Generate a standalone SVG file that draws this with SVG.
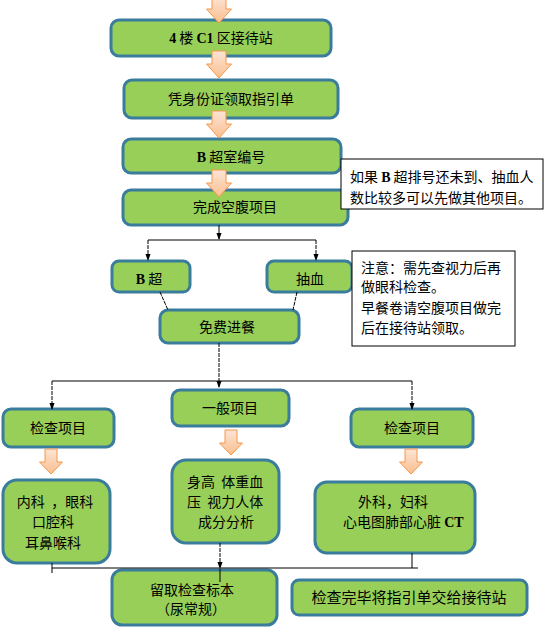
<svg xmlns="http://www.w3.org/2000/svg" width="546" height="630" viewBox="0 0 546 630">
<defs>
<linearGradient id="ag" x1="0" y1="0" x2="0" y2="1">
<stop offset="0" stop-color="#FCE4D6"/>
<stop offset="1" stop-color="#FABF8F"/>
</linearGradient>
<marker id="ah" viewBox="0 0 8 8" refX="7" refY="4" markerWidth="7" markerHeight="7" orient="auto" markerUnits="userSpaceOnUse">
<path d="M0,1 L8,4 L0,7 z" fill="#000"/>
</marker>
<path id="bigArrow" d="M-7,0 H7 V13 H12.5 L0,27 L-12.5,13 H-7 Z"/>
<path id="smArrow" d="M-6,0 H6 V13 H11.5 L0,25 L-11.5,13 H-6 Z"/>
</defs>
<style>
.box{fill:#97CF59;stroke:#3A7C9C;stroke-width:3}
.note{fill:#fff;stroke:#000;stroke-width:1}
.t{font-family:"Noto Sans CJK SC","Noto Sans",sans-serif;font-size:14px;fill:#000}
.c{text-anchor:middle}
.b{font-family:"Liberation Serif",serif;font-weight:bold}
.arr{fill:url(#ag);stroke:#F79646;stroke-width:1}
.ln{fill:none;stroke:#000;stroke-width:1}
.dl{fill:none;stroke:#000;stroke-width:1;stroke-dasharray:4 1}
</style>
<rect width="546" height="630" fill="#fff"/>

<g id="n1"><rect class="box" x="111" y="20" width="220" height="36" rx="8"/><text class="t c" x="221" y="43"><tspan class="b">4</tspan> 楼 <tspan class="b">C1</tspan> 区接待站</text></g>
<g id="n2"><rect class="box" x="124" y="80" width="214" height="38" rx="8"/><text class="t c" x="231" y="104">凭身份证领取指引单</text></g>
<g id="n3"><rect class="box" x="123" y="139" width="218" height="34" rx="8"/><text class="t c" x="231" y="162"><tspan class="b">B</tspan> 超室编号</text></g>
<g id="n4"><rect class="box" x="123" y="190" width="225" height="35" rx="8"/><text class="t c" x="235" y="212">完成空腹项目</text></g>
<g id="note1"><rect class="note" x="341" y="159" width="202" height="50"/><text class="t" x="350" y="182">如果 <tspan class="b">B</tspan> 超排号还未到、抽血人</text><text class="t" x="350" y="203">数比较多可以先做其他项目。</text></g>
<g id="n5"><rect class="box" x="112" y="261" width="78" height="31" rx="7"/><text class="t c" x="149" y="284"><tspan class="b">B</tspan> 超</text></g>
<g id="n6"><rect class="box" x="267" y="261" width="85" height="31" rx="7"/><text class="t c" x="310" y="284">抽血</text></g>
<g id="note2"><rect class="note" x="352" y="251" width="163" height="95"/>
<text class="t" x="361" y="273">注意：需先查视力后再</text>
<text class="t" x="361" y="292">做眼科检查。</text>
<text class="t" x="361" y="313">早餐卷请空腹项目做完</text>
<text class="t" x="361" y="333">后在接待站领取。</text></g>
<g id="n7"><rect class="box" x="160" y="310" width="139" height="33" rx="8"/><text class="t c" x="227" y="332">免费进餐</text></g>
<g id="n8"><rect class="box" x="3" y="409" width="111" height="38" rx="8"/><text class="t c" x="58" y="433">检查项目</text></g>
<g id="n9"><rect class="box" x="172" y="390" width="117" height="36" rx="8"/><text class="t c" x="230" y="413">一般项目</text></g>
<g id="n10"><rect class="box" x="351" y="409" width="122" height="38" rx="8"/><text class="t c" x="412" y="433">检查项目</text></g>
<g id="n11"><rect class="box" x="3" y="480" width="107" height="83" rx="14"/>
<text class="t c" x="55" y="507">内科&#160;&#160;，眼科</text>
<text class="t c" x="53" y="527">口腔科</text>
<text class="t c" x="53" y="548">耳鼻喉科</text></g>
<g id="n12"><rect class="box" x="172" y="460" width="107" height="83" rx="14"/>
<text class="t" x="187" y="487">身高&#160;&#160;体重血</text>
<text class="t" x="187" y="507">压&#160;&#160;视力人体</text>
<text class="t" x="198" y="527">成分分析</text></g>
<g id="n13"><rect class="box" x="315" y="482" width="160" height="71" rx="12"/>
<text class="t" x="358" y="507">外科，妇科</text>
<text class="t" x="343" y="527">心电图肺部心脏 <tspan class="b">CT</tspan></text></g>
<g id="n14"><rect class="box" x="112" y="570" width="165" height="55" rx="10"/>
<text class="t c" x="192" y="595">留取检查标本</text>
<text class="t c" x="191" y="614">（尿常规）</text></g>
<g id="n15"><rect class="box" x="292" y="580" width="235" height="35" rx="7"/><text class="t c" x="409" y="603" style="font-size:15px">检查完毕将指引单交给接待站</text></g>

<g id="flowArrows">
<use href="#bigArrow" class="arr" x="219" y="-4"/>
<use href="#bigArrow" class="arr" x="219" y="51"/>
<use href="#bigArrow" class="arr" x="219" y="111"/>
<use href="#bigArrow" class="arr" x="219" y="170"/>
<use href="#smArrow" class="arr" x="51" y="449"/>
<use href="#smArrow" class="arr" x="231" y="430"/>
<use href="#smArrow" class="arr" x="411" y="449"/>
</g>

<g id="connectors">
<path class="ln" d="M219,225 V239" marker-end="url(#ah)"/>
<path class="ln" d="M148,240 H316"/>
<path class="dl" d="M148,240 V260" marker-end="url(#ah)"/>
<path class="dl" d="M316,240 V260" marker-end="url(#ah)"/>
<path class="dl" d="M160,292 L168,310"/>
<path class="dl" d="M297,292 L293,310"/>
<path class="dl" d="M219,343 V387" marker-end="url(#ah)"/>
<path class="ln" d="M52,381 H412"/>
<path class="dl" d="M52,381 V409" marker-end="url(#ah)"/>
<path class="dl" d="M412,381 V409" marker-end="url(#ah)"/>
<path class="ln" d="M52,563 V573"/>
<path class="ln" d="M52,568 H418"/>
<path class="ln" d="M412,553 V568"/>
<path class="dl" d="M220,543 V568" marker-end="url(#ah)"/>
<path class="ln" d="M220,569 V582"/>
</g>
</svg>
